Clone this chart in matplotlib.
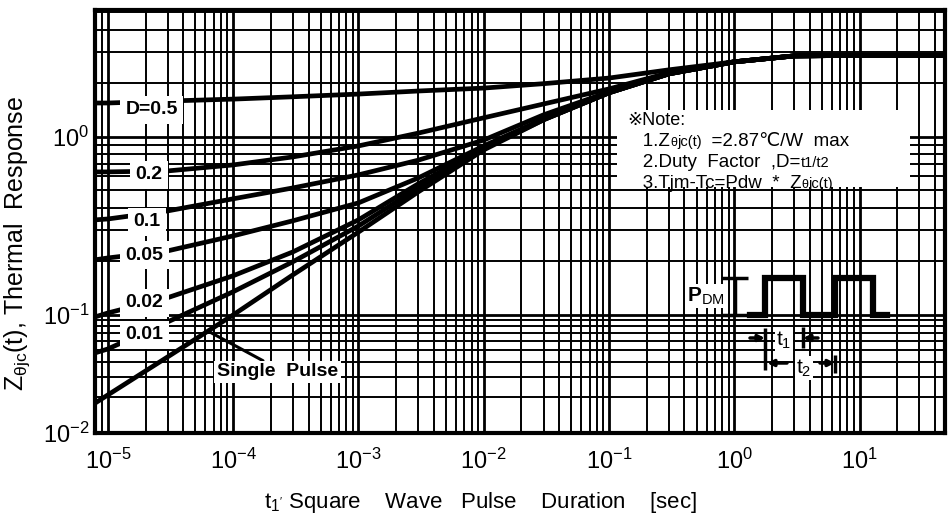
import numpy as np
import matplotlib
matplotlib.use("Agg")
import matplotlib.pyplot as plt
from matplotlib import ticker
from matplotlib.offsetbox import TextArea, HPacker, VPacker, AnchoredOffsetbox
from matplotlib.patches import Rectangle, FancyArrowPatch

plt.rcParams["font.family"] = ["Liberation Sans", "DejaVu Sans", "Noto Sans CJK JP"]
plt.rcParams["mathtext.fontset"] = "custom"
plt.rcParams["mathtext.rm"] = "Liberation Sans"
plt.rcParams["mathtext.it"] = "Liberation Sans:italic"
plt.rcParams["mathtext.bf"] = "Liberation Sans:bold"

# ---------------------------------------------------------------- data
# square-wave pulse duration t1 [s]
t_sec = [7.9e-6, 1e-5, 3e-5, 1e-4, 3e-4, 1e-3, 3e-3, 1e-2, 3e-2, 0.1, 0.3, 1, 3, 10, 48]

zth_max = 2.87  # steady-state junction-to-case resistance [C/W]

# transient thermal impedance for each duty factor
zth_d50 = [1.55, 1.55, 1.59, 1.63, 1.68, 1.74, 1.81, 1.88, 1.99, 2.14, 2.38, 2.64, 2.85, zth_max, zth_max]
zth_d20 = [0.636, 0.636, 0.644, 0.696, 0.772, 0.89, 1.05, 1.28, 1.53, 1.86, 2.29, 2.64, 2.85, zth_max, zth_max]
zth_d10 = [0.342, 0.346, 0.384, 0.449, 0.517, 0.612, 0.74, 0.96, 1.33, 1.79, 2.26, 2.64, 2.85, zth_max, zth_max]
zth_d05 = [0.204, 0.209, 0.229, 0.278, 0.338, 0.426, 0.588, 0.89, 1.26, 1.77, 2.26, 2.64, 2.85, zth_max, zth_max]
zth_d02 = [0.0962, 0.1026, 0.125, 0.166, 0.226, 0.342, 0.545, 0.868, 1.25, 1.77, 2.26, 2.64, 2.85, zth_max, zth_max]
zth_d01 = [0.0477, 0.0515, 0.0873, 0.135, 0.199, 0.316, 0.517, 0.856, 1.25, 1.77, 2.26, 2.64, 2.85, zth_max, zth_max]
zth_single = [0.0179, 0.021, 0.0441, 0.100, 0.168, 0.292, 0.491, 0.845, 1.246, 1.77, 2.26, 2.64, 2.85, zth_max, zth_max]

duty_curves = [zth_d50, zth_d20, zth_d10, zth_d05, zth_d02, zth_d01]
duty_labels = ["D=0.5", "0.2", "0.1", "0.05", "0.02", "0.01"]
duty_label_t = [1.38e-5, 1.66e-5, 1.60e-5, 1.38e-5, 1.38e-5, 1.38e-5]
duty_label_z = [1.42, 0.611, 0.333, 0.217, 0.117, 0.0677]

single_label = "Single  Pulse"
single_label_t = 7.46e-5
single_label_z = 0.0329
single_lead_t = 6.3e-5

# axis extents and decade ticks
t_range = (7.9e-6, 48)
z_range = (0.01, 5.16)
t_decades = [1e-5, 1e-4, 1e-3, 1e-2, 1e-1, 1e0, 1e1]
z_decades = [0.01, 0.1, 1.0]

# ---------------------------------------------------------------- y scale
# log axis whose lowest decade (0.01 .. 0.1) is drawn compressed
LOW_DECADE = 118.0 / 178.0


def y_forward(v):
    lv = np.log10(np.clip(np.asarray(v, float), 1e-12, None))
    return np.where(lv >= -1, lv, -1 + (lv + 1) * LOW_DECADE)


def y_inverse(f):
    f = np.asarray(f, float)
    return 10.0 ** np.where(f >= -1, f, -1 + (f + 1) / LOW_DECADE)


def minor_steps(lo, hi):
    vals = [m * 10.0 ** e for e in range(-7, 3) for m in range(2, 10)]
    return [v for v in vals if lo < v < hi]


# ---------------------------------------------------------------- figure
fig = plt.figure(figsize=(9.49, 5.15), dpi=100)
ax = fig.add_axes([95 / 949, 82 / 515, 850 / 949, 423 / 515])

ax.set_xscale("log")
ax.set_xlim(*t_range)
ax.set_yscale("function", functions=(y_forward, y_inverse))
ax.set_ylim(*z_range)

ax.xaxis.set_major_locator(ticker.FixedLocator(t_decades))
ax.xaxis.set_minor_locator(ticker.FixedLocator(minor_steps(*t_range)))
ax.xaxis.set_major_formatter(ticker.LogFormatterMathtext())
ax.xaxis.set_minor_formatter(ticker.NullFormatter())

ax.yaxis.set_major_locator(ticker.FixedLocator(z_decades))
ax.yaxis.set_minor_locator(ticker.FixedLocator(minor_steps(*z_range)))
ax.yaxis.set_major_formatter(ticker.LogFormatterMathtext())
ax.yaxis.set_minor_formatter(ticker.NullFormatter())

ax.grid(True, which="major", color="black", lw=2.0)
ax.grid(True, which="minor", color="black", lw=1.4)
ax.tick_params(which="both", length=0)
ax.tick_params(axis="x", labelsize=17, pad=11)
ax.tick_params(axis="y", labelsize=17, pad=4)
for sp in ax.spines.values():
    sp.set_linewidth(3)
    sp.set_color("black")

# curves
for z in duty_curves:
    ax.plot(t_sec, z, color="black", lw=3.4, solid_capstyle="butt")
ax.plot(t_sec, zth_single, color="black", lw=3.4, solid_capstyle="butt")

label_box = dict(facecolor="white", edgecolor="none", pad=4)
for s, lt, lz in zip(duty_labels, duty_label_t, duty_label_z):
    ax.text(lt, lz, s, fontsize=14, fontweight="bold", ha="left", va="center",
            bbox=label_box, zorder=4)

lead_z = 10 ** np.interp(np.log10(single_lead_t), np.log10(t_sec), np.log10(zth_single))
ax.annotate(single_label, xy=(single_lead_t, lead_z),
            xytext=(single_label_t, single_label_z),
            fontsize=14, fontweight="bold", ha="left", va="center",
            bbox=dict(facecolor="white", edgecolor="none", pad=2),
            arrowprops=dict(arrowstyle="-", color="black", lw=2.2,
                            relpos=(0.42, 1.0), shrinkA=0, shrinkB=0),
            zorder=4)

# axis titles
ax.set_xlabel(r"t$_{\mathregular{1'}}$ Square    Wave   Pulse    Duration    [sec]", fontsize=16)
ax.xaxis.set_label_coords(0.454, -0.135)
ax.set_ylabel(r"Z$_{\mathregular{\theta jc}}$(t), Thermal  Response", fontsize=18)
ax.yaxis.set_label_coords(-0.074, 0.447)

# note panel
ax.add_patch(Rectangle((0.614, 0.582), 0.345, 0.182, transform=ax.transAxes,
                       facecolor="white", edgecolor="none", zorder=5))


def note_line(pieces):
    return HPacker(children=[TextArea(s, textprops=dict(fontsize=fs, color="black"))
                             for s, fs in pieces],
                   align="baseline", pad=0, sep=0)


note = VPacker(children=[
    note_line([("※Note:", 13)]),
    note_line([("   1.Z", 13.5), ("θ", 9), ("jc(t)", 10.5), ("  =2.87℃/W  max", 13.5)]),
    note_line([("   2.Duty  Factor  ,D=", 13.5), ("t1/t2", 10.5)]),
    note_line([("   3.Tjm-Tc=Pdw  *  Z", 13.5), ("θ", 9), ("jc(t)", 10.5)]),
], align="left", pad=0, sep=3)
note_box = AnchoredOffsetbox(loc="upper left", child=note, pad=0, borderpad=0,
                             frameon=False, bbox_to_anchor=(0.626, 0.760),
                             bbox_transform=ax.transAxes)
note_box.set_zorder(6)
ax.add_artist(note_box)

# pulse-train sketch (local pixel-like units, y downward)
ins = fig.add_axes([680 / 949, (515 - 382) / 515, 220 / 949, 120 / 515])
ins.set_xlim(0, 220)
ins.set_ylim(120, 0)
ins.axis("off")

x0, lead, t1, t2, tail = 70, 15, 38, 70, 14
low, high = 53, 16
wave_x = [x0, x0 + lead, x0 + lead, x0 + lead + t1, x0 + lead + t1,
          x0 + lead + t2, x0 + lead + t2, x0 + lead + t2 + t1, x0 + lead + t2 + t1,
          x0 + lead + t2 + t1 + tail]
wave_y = [low, low, high, high, low, low, high, high, low, low]
ins.plot(wave_x, wave_y, color="black", lw=4.5, solid_joinstyle="miter")

k = dict(color="black", lw=2.5, solid_capstyle="butt")
ins.plot([55, 55], [high, low], **k)
ins.plot([42, 68], [high, high], **k)
ins.plot([42, 68], [low, low], **k)
ins.text(7, 34, r"$\mathbf{P}_{\mathregular{DM}}$", fontsize=15, ha="left", va="center",
         bbox=dict(facecolor="white", edgecolor="none", pad=1))

ra = x0 + lead
rb = x0 + lead + t1
rc = x0 + lead + t2
ins.plot([ra, ra], [66, 108], **k)
ins.plot([rb, rb], [65, 86], **k)
ins.plot([rc, rc], [93, 111], **k)


def dim_arrow(start, end):
    ins.add_patch(FancyArrowPatch(start, end, arrowstyle="-|>", mutation_scale=9,
                                  color="black", lw=2.5, shrinkA=0, shrinkB=0))


dim_arrow((ra - 15, 76), (ra, 76))
dim_arrow((rb + 15, 76), (rb, 76))
dim_arrow((ra + 22, 101), (ra + 2, 101))
dim_arrow((rc - 15, 101), (rc, 101))
ins.text(104, 78, r"t$_{\mathregular{1}}$", fontsize=15, ha="center", va="center",
         bbox=dict(facecolor="white", edgecolor="none", pad=1))
ins.text(124, 106, r"t$_{\mathregular{2}}$", fontsize=15, ha="center", va="center",
         bbox=dict(facecolor="white", edgecolor="none", pad=1))

fig.savefig("out.png", dpi=100)
